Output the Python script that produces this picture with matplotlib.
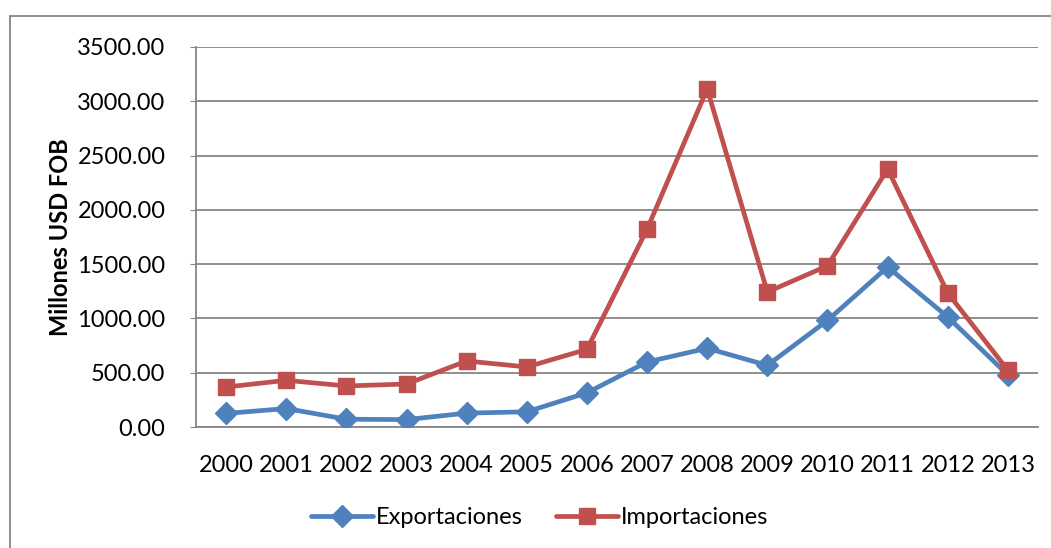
import matplotlib.pyplot as plt
from matplotlib.patches import Rectangle

years = ["2000", "2001", "2002", "2003", "2004", "2005", "2006",
         "2007", "2008", "2009", "2010", "2011", "2012", "2013"]
exportaciones = [125, 170, 72, 68, 128, 140, 315,
                 599, 725, 568, 982, 1474, 1013, 479]
importaciones = [368, 430, 378, 396, 608, 553, 715,
                 1822, 3113, 1243, 1485, 2376, 1234, 522]

plt.rcParams['font.family'] = ['Lato', 'DejaVu Sans']

blue = "#4F81BD"
red = "#C0504D"
grid = "#868686"
fs = 17

fig = plt.figure(figsize=(10.51, 5.48), dpi=100)
ax = fig.add_axes([196/1051, 1 - 427/548, (1038 - 196)/1051, 380/548])

x = range(len(years))
ax.plot(x, exportaciones, color=blue, lw=3.4, marker="D", markersize=11,
        label="Exportaciones", solid_capstyle="round", zorder=3)
ax.plot(x, importaciones, color=red, lw=3.4, marker="s", markersize=12,
        label="Importaciones", solid_capstyle="round", zorder=4)

ax.set_xlim(-0.5, len(years) - 0.5)
ax.set_ylim(0, 3500)
ax.set_yticks(range(0, 3501, 500))
ax.set_yticklabels([f"{v:.2f}" for v in range(0, 3501, 500)], fontsize=fs)
ax.set_xticks(list(x))
ax.set_xticklabels(years, fontsize=fs)
ax.tick_params(axis="x", length=0, pad=20)
ax.tick_params(axis="y", length=4, color=grid, pad=18)

ax.yaxis.grid(True, color=grid, lw=1.3)
ax.set_axisbelow(True)
for side in ["top", "right"]:
    ax.spines[side].set_visible(False)
ax.spines["left"].set_color(grid)
ax.spines["bottom"].set_color(grid)
ax.spines["left"].set_linewidth(1.3)
ax.spines["bottom"].set_linewidth(1.3)

ax.set_ylabel("Millones USD FOB", fontsize=fs, fontweight="bold", labelpad=4)

fig.legend(loc="center", bbox_to_anchor=(540/1051, 1 - 518/548), ncol=2,
           frameon=False, fontsize=fs, handlelength=2.6, columnspacing=1.4,
           handletextpad=0.15)

# outer chart frame
fig.patches.append(Rectangle((10/1051, -0.05), 1.1, 1 - 16/548 + 0.05,
                             transform=fig.transFigure, fill=False,
                             edgecolor=grid, lw=1.3))

fig.savefig("out.png", dpi=100)
